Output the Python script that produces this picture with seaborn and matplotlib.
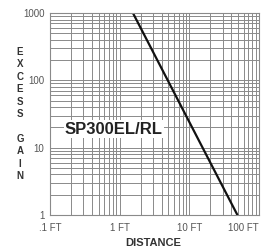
import matplotlib
matplotlib.use("Agg")
import matplotlib.pyplot as plt
import matplotlib.ticker as mticker
import seaborn as sns
import pandas as pd

# excess gain curve (slope -2 on log-log)
distance_ft = [1.55, 49.0]
excess_gain = [1000, 1]
x_ticks = [0.1, 1, 10, 100]
x_labels = [".1 FT", "1 FT", "10 FT", "100 FT"]
y_ticks = [1, 10, 100, 1000]
y_labels = ["1", "10", "100", "1000"]

df = pd.DataFrame({"distance": distance_ft, "gain": excess_gain})

sns.set_style("white")
plt.rcParams["font.family"] = ["Liberation Sans", "DejaVu Sans"]

fig = plt.figure(figsize=(2.63, 2.5), dpi=100)
ax = fig.add_axes([50 / 263, 1 - 215 / 250, 209 / 263, 202 / 250])

sns.lineplot(data=df, x="distance", y="gain", color="#111111", linewidth=1.6, ax=ax)
ax.set_xscale("log")
ax.set_yscale("log")
ax.set_xlim(0.1, 100)
ax.set_ylim(1, 1000)

ax.xaxis.set_major_locator(mticker.FixedLocator(x_ticks))
ax.yaxis.set_major_locator(mticker.FixedLocator(y_ticks))
ax.xaxis.set_minor_locator(mticker.LogLocator(base=10, subs=range(2, 10)))
ax.yaxis.set_minor_locator(mticker.LogLocator(base=10, subs=range(2, 10)))
ax.xaxis.set_minor_formatter(mticker.NullFormatter())
ax.yaxis.set_minor_formatter(mticker.NullFormatter())
ax.set_xticklabels(x_labels)
ax.set_yticklabels(y_labels)
ax.tick_params(which="both", length=0, labelsize=7, colors="#555555")
ax.tick_params(axis="x", pad=6)
ax.tick_params(axis="y", pad=4)
# last label sits against the right edge
ax.get_xticklabels()[-1].set_ha("right")
ax.get_xticklabels()[-1].set_x(1.02)

ax.grid(which="both", color="#8a8a8a", linewidth=0.7)
for s in ax.spines.values():
    s.set_color("#8a8a8a")
    s.set_linewidth(0.8)

ax.set_xlabel("")
ax.set_ylabel("")
fig.text(153 / 263, 1 - 243 / 250, "DISTANCE", ha="center", va="center",
         fontsize=8, fontweight="bold", color="#333333")
fig.text(20 / 263, 1 - 114 / 250, "E\nX\nC\nE\nS\nS\n\nG\nA\nI\nN",
         ha="center", va="center", fontsize=7, fontweight="bold",
         color="#333333", linespacing=1.3)

fig.text(114 / 263, 1 - 129 / 250, "SP300EL/RL", ha="center", va="center",
         fontsize=12, fontweight="bold", color="#222222",
         bbox=dict(facecolor="white", edgecolor="none", pad=1))

fig.savefig("out.png", dpi=100)
